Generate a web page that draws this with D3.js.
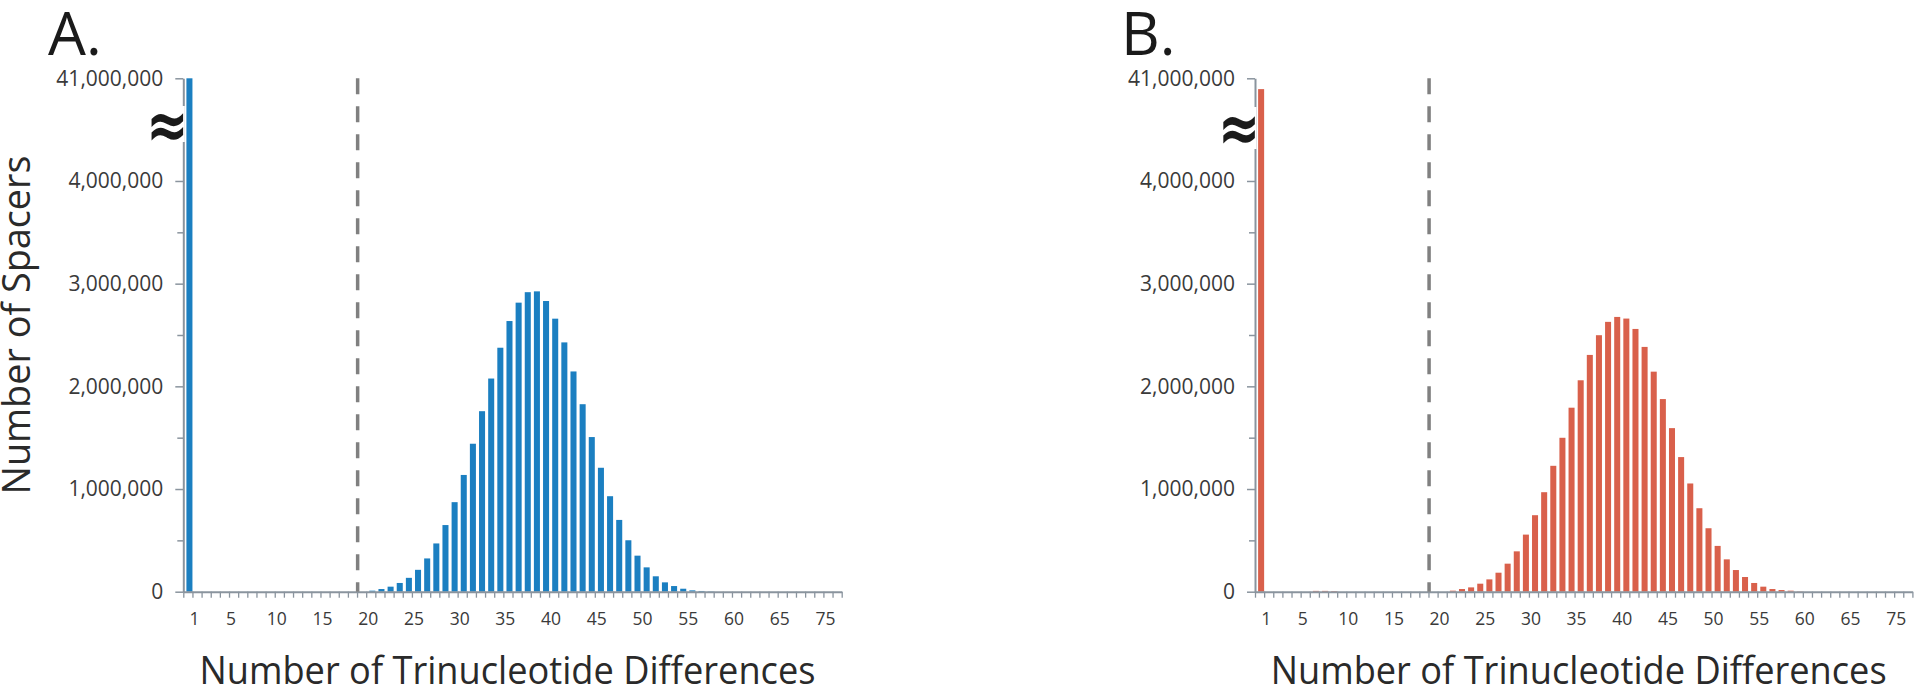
<!DOCTYPE html>
<html>
<head>
<meta charset="utf-8">
<script src="https://cdn.jsdelivr.net/npm/d3@7"></script>
<style>
  html, body { margin: 0; padding: 0; background: #ffffff; }
  svg { display: block; }
  text { font-family: "Open Sans", "Noto Sans", sans-serif; }
</style>
</head>
<body>
<svg id="chart" width="1915" height="689"></svg>
<script>
// Number of trinucleotide differences per spacer pair (categories 1..72)
const categories = d3.range(1, 73);

// Spacer counts, panel A (first category sits above the axis break)
const spacersA = [
  41000000, 0, 0, 0, 0, 0, 0, 0, 0, 0,
  0, 0, 0, 0, 0, 0, 0, 0, 0, 0,
  10000, 26000, 49000, 85000, 135000, 213000, 324000, 470000, 649000, 872000,
  1137000, 1441000, 1758000, 2076000, 2376000, 2636000, 2815000, 2917000, 2925000, 2831000,
  2659000, 2428000, 2145000, 1826000, 1506000, 1207000, 930000, 699000, 501000, 351000,
  237000, 150000, 91000, 55000, 29000, 13000, 7000, 3000, 0, 0,
  0, 0, 0, 0, 0, 0, 0, 0, 0, 0,
  0, 0
];

// Spacer counts, panel B
const spacersB = [
  37100000, 0, 0, 0, 0, 0, 8000, 8000, 6000, 0,
  0, 0, 0, 0, 0, 0, 0, 0, 0, 0,
  0, 10000, 26000, 42000, 78000, 120000, 185000, 273000, 393000, 556000,
  745000, 969000, 1226000, 1499000, 1792000, 2059000, 2306000, 2498000, 2628000, 2676000,
  2660000, 2559000, 2384000, 2143000, 1876000, 1593000, 1311000, 1054000, 813000, 618000,
  446000, 315000, 211000, 143000, 85000, 49000, 26000, 16000, 10000, 3000,
  0, 0, 0, 0, 0, 0, 0, 0, 0, 0,
  0, 0
];

// Axis ticks
const yMajorTicks = [0, 1000000, 2000000, 3000000, 4000000, 41000000];
const yMinorTicks = [500000, 1500000, 2500000, 3500000];
const yBreakValue = 4000000;
const yTopValue = 41000000;
const xTickCategories = [1, 5, 10, 15, 20, 25, 30, 35, 40, 45, 50, 55, 60, 65, 70];
const xTickLabels = ["1", "5", "10", "15", "20", "25", "30", "35", "40", "45", "50", "55", "60", "65", "75"];
const cutoffCategory = 19;

const panels = [
  { letter: "A.", values: spacersA, color: "#1b7fc1", left: 183.3, right: 841.7,
    letterX: 48, yTitle: "Number of Spacers", gap: [106, 142], breakY: 125 },
  { letter: "B.", values: spacersB, color: "#d9604b", left: 1255, right: 1912.4,
    letterX: 1121, yTitle: null, gap: [107, 149], breakY: 127.5 }
];

const plotTop = 78.3, plotBottom = 591.7;
const axisColor = "#8a949e";
const svg = d3.select("#chart");

panels.forEach(p => {
  const g = svg.append("g");

  // y: linear up to the break, then the compressed top segment
  const y = d3.scaleLinear()
    .domain([0, yBreakValue, yTopValue])
    .range([plotBottom, plotBottom - 0.8 * (plotBottom - plotTop), plotTop]);

  const x = d3.scaleBand().domain(categories).range([p.left, p.right]).paddingInner(0);
  const step = x.step();
  const xEdge = d3.scaleLinear().domain([0, categories.length]).range([p.left, p.right]);

  // bars
  const barW = step * 0.66;
  g.append("g").selectAll("rect")
    .data(categories.map((c, i) => ({ c, v: p.values[i] })).filter(d => d.v > 0))
    .join("rect")
    .attr("x", d => x(d.c) + step - barW)
    .attr("width", barW)
    .attr("y", d => y(d.v))
    .attr("height", d => y(0) - y(d.v))
    .attr("fill", p.color);

  // minor y ticks
  g.append("g")
    .attr("transform", `translate(${p.left},0)`)
    .call(d3.axisLeft(y).tickValues(yMinorTicks).tickSize(6).tickSizeOuter(0).tickFormat(""))
    .call(a => a.select(".domain").remove())
    .call(a => a.selectAll("line").attr("stroke", axisColor).attr("stroke-width", 1.5));

  // major y ticks + labels
  const fmt = d3.format(",");
  g.append("g")
    .attr("transform", `translate(${p.left},0)`)
    .call(d3.axisLeft(y).tickValues(yMajorTicks).tickSize(8).tickSizeOuter(0).tickPadding(12).tickFormat(fmt))
    .call(a => a.select(".domain").attr("stroke", axisColor).attr("stroke-width", 2))
    .call(a => a.selectAll("line").attr("stroke", axisColor).attr("stroke-width", 1.5))
    .call(a => a.selectAll("text")
      .attr("fill", "#3a3a3a")
      .style("font-size", "21px")
      .style("font-family", "'Open Sans', sans-serif"));

  // x tick marks at category boundaries
  g.append("g")
    .attr("transform", `translate(0,${plotBottom})`)
    .call(d3.axisBottom(xEdge).tickValues(d3.range(0, categories.length + 1)).tickSize(6).tickSizeOuter(0).tickFormat(""))
    .call(a => a.select(".domain").attr("stroke", axisColor).attr("stroke-width", 2))
    .call(a => a.selectAll("line").attr("stroke", axisColor).attr("stroke-width", 1.3));

  // x tick labels
  g.append("g")
    .attr("transform", `translate(1.5,${plotBottom})`)
    .call(d3.axisBottom(xEdge).tickValues(xTickCategories).tickSize(0).tickPadding(21)
      .tickFormat((d, i) => xTickLabels[i]))
    .call(a => a.select(".domain").remove())
    .call(a => a.selectAll("text")
      .attr("fill", "#3a3a3a")
      .style("font-size", "17.5px")
      .style("font-family", "'Open Sans', sans-serif"));

  // axis break
  g.append("rect")
    .attr("x", p.left - 34).attr("y", p.gap[0])
    .attr("width", 35.5).attr("height", p.gap[1] - p.gap[0])
    .attr("fill", "#ffffff");
  g.append("text")
    .attr("transform", `translate(${p.left - 16},${p.breakY}) scale(1.05,1.4)`)
    .attr("text-anchor", "middle")
    .attr("dominant-baseline", "central")
    .style("font-family", "'DejaVu Sans', sans-serif")
    .style("font-weight", "bold")
    .style("font-size", "48px")
    .attr("fill", "#1a1a1a")
    .text("≈");

  // cutoff line
  const cx = xEdge(cutoffCategory) + 0.6;
  g.append("line")
    .attr("x1", cx).attr("x2", cx)
    .attr("y1", plotTop).attr("y2", plotBottom)
    .attr("stroke", "#808080")
    .attr("stroke-width", 3.5)
    .attr("stroke-dasharray", "16,12");

  // panel letter
  g.append("text")
    .attr("x", p.letterX).attr("y", 55)
    .style("font-size", "60px")
    .attr("fill", "#1a1a1a")
    .text(p.letter);

  // x title
  g.append("text")
    .attr("x", (p.left + p.right) / 2 - 5).attr("y", 684)
    .attr("text-anchor", "middle")
    .attr("textLength", 616).attr("lengthAdjust", "spacingAndGlyphs")
    .style("font-size", "39px")
    .attr("fill", "#2a2a2a")
    .text("Number of Trinucleotide Differences");

  // y title
  if (p.yTitle) {
    g.append("text")
      .attr("transform", `translate(30,${325}) rotate(-90)`)
      .attr("text-anchor", "middle")
      .attr("textLength", 339).attr("lengthAdjust", "spacingAndGlyphs")
      .style("font-size", "38px")
      .attr("fill", "#2a2a2a")
      .text(p.yTitle);
  }
});
</script>
</body>
</html>
